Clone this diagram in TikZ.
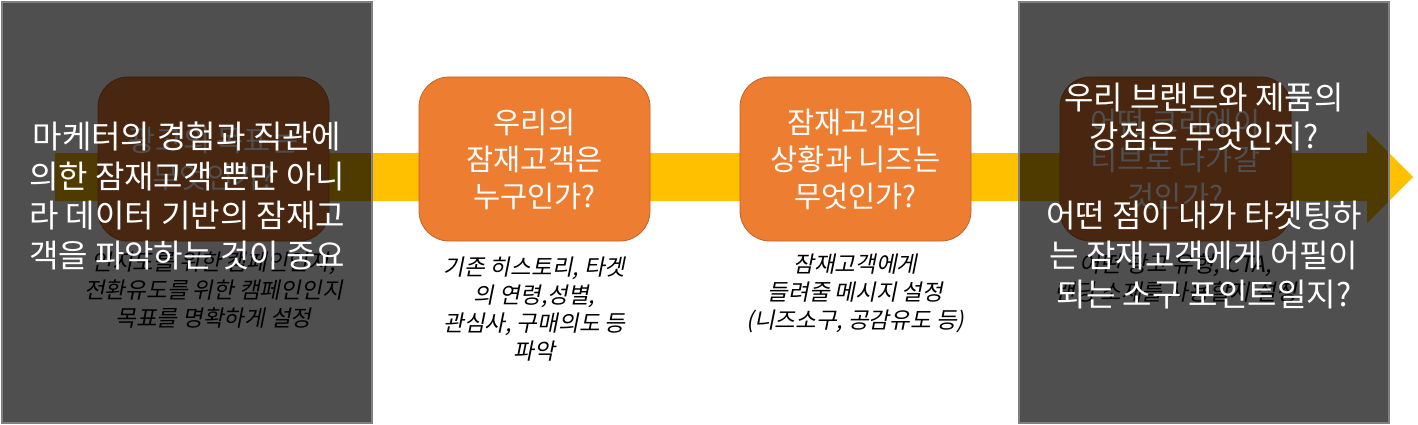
\documentclass[tikz,border=0pt]{standalone}
\usepackage{fontspec}
\setmainfont{Noto Sans CJK KR}
\newfontfamily\capfont[FakeSlant=0.2]{Noto Sans CJK KR}
\definecolor{boxorange}{HTML}{ED7D31}
\definecolor{boxedge}{HTML}{C0632A}
\definecolor{band}{HTML}{FFC000}
\definecolor{framegray}{HTML}{808080}
\begin{document}
\begin{tikzpicture}[x=1pt,y=-1pt,
  stepbox/.style={draw=boxedge, line width=0.8pt, fill=boxorange, rounded corners=30pt,
    minimum width=231pt, minimum height=164pt, text=white,
    font=\fontsize{29.5}{37}\selectfont, align=center, inner sep=0pt},
  caption/.style={font=\capfont\fontsize{22.5}{28}\selectfont, align=center, text=black, anchor=north, inner sep=0pt},
  shade/.style={fill=black, fill opacity=0.69, draw=none},
  frame/.style={draw=framegray, line width=1.5pt},
  note/.style={text=white, font=\fontsize{32}{39.5}\selectfont, align=center, inner sep=0pt}]
\useasboundingbox (0,0) rectangle (1418,425);
% yellow arrow band
\fill[band] (55,153) -- (1367,153) -- (1367,131) -- (1413,177) -- (1367,223) -- (1367,201) -- (55,201) -- cycle;
% step boxes
\node[stepbox] (b1) at (213.5,159) {광고의 목표는\\무엇인가?};
\node[stepbox] (b2) at (534.5,159) {우리의\\잠재고객은\\누구인가?};
\node[stepbox] (b3) at (855.5,159) {잠재고객의\\상황과 니즈는\\무엇인가?};
\node[stepbox] (b4) at (1175.5,159) {어떤 크리에이\\티브로 다가갈\\것인가?};
% captions
\node[caption] (c1) at (213.5,252) {인지도를 위한 캠페인인지,\\전환유도를 위한 캠페인인지\\목표를 명확하게 설정};
\node[caption] (c2) at (534.5,257) {기존 히스토리, 타겟\\의 연령,성별,\\관심사, 구매의도 등\\파악};
\node[caption] (c3) at (855.5,254) {잠재고객에게\\들려줄 메시지 설정\\(니즈소구, 공감유도 등)};
\node[caption] (c4) at (1175.5,254) {어떤 광고 유형, CTA,\\랜딩 소재를 사용할지 설정};
% overlay panels
\path[shade] (2,2) rectangle (372,423);
\path[shade] (1019,2) rectangle (1389,423);
\draw[frame] (2,2) rectangle (372,423);
\draw[frame] (1019,2) rectangle (1389,423);
% notes
\node[note] (n1) at (187,196) {마케터의 경험과 직관에\\의한 잠재고객 뿐만 아니\\라 데이터 기반의 잠재고\\객을 파악하는 것이 중요};
\node[note] (n2) at (1204,196) {우리 브랜드와 제품의\\강점은 무엇인지?\\[39.5pt]어떤 점이 내가 타겟팅하\\는 잠재고객에게 어필이\\되는 소구 포인트일지?};
\end{tikzpicture}
\end{document}
